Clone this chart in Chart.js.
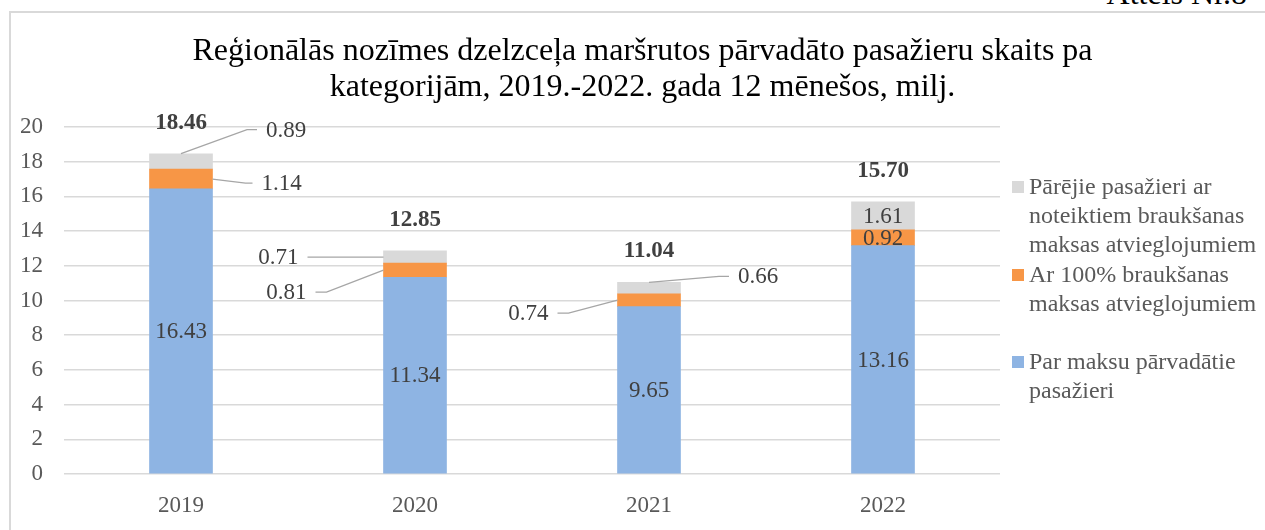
<!DOCTYPE html>
<html>
<head>
<meta charset="utf-8">
<script src="https://cdn.jsdelivr.net/npm/chart.js@4.4.0/dist/chart.umd.min.js"></script>
<style>
  html, body { margin: 0; padding: 0; background: #fff; }
  body { width: 1265px; height: 530px; position: relative; overflow: hidden; font-family: "Liberation Serif", "Times New Roman", serif; }
  #frame { position: absolute; left: 9px; top: 11px; width: 1270px; height: 530px; border-left: 2px solid #d9d9d9; border-top: 2px solid #d9d9d9; box-sizing: border-box; }
  #fig { position: absolute; right: 18px; top: -25px; font-size: 32px; line-height: 37px; color: #000; }
  #title { position: absolute; left: 0; width: 1285px; top: 31px; text-align: center; font-size: 32px; line-height: 36px; color: #000; }
  #chart { position: absolute; left: 0; top: 0; }
  #legend { position: absolute; left: 1012px; top: 0; width: 253px; font-size: 24px; line-height: 29px; color: #595959; }
  #legend .item { position: absolute; left: 0; padding-left: 17px; white-space: nowrap; }
  #legend .sw { position: absolute; left: 0; top: 9px; width: 12px; height: 12px; }
</style>
</head>
<body>
<div id="frame"></div>
<div id="fig">Attēls Nr.8</div>
<canvas id="chart" width="1265" height="530"></canvas>
<div id="title">Reģionālās nozīmes dzelzceļa maršrutos pārvadāto pasažieru skaits pa<br>kategorijām, 2019.-2022. gada 12 mēnešos, milj.</div>
<div id="legend"></div>
<script>
const years = ['2019', '2020', '2021', '2022'];
const paidPassengers = [16.43, 11.34, 9.65, 13.16];
const fullDiscount = [1.14, 0.81, 0.74, 0.92];
const otherDiscount = [0.89, 0.71, 0.66, 1.61];
const totals = [18.46, 12.85, 11.04, 15.70];
const yTicks = [0, 2, 4, 6, 8, 10, 12, 14, 16, 18, 20];

const seriesNames = [
    'Par maksu pārvadātie pasažieri',
    'Ar 100% braukšanas maksas atvieglojumiem',
    'Pārējie pasažieri ar noteiktiem braukšanas maksas atvieglojumiem'
];
const legendLines = [
    ['Par maksu pārvadātie', 'pasažieri'],
    ['Ar 100% braukšanas', 'maksas atvieglojumiem'],
    ['Pārējie pasažieri ar', 'noteiktiem braukšanas', 'maksas atvieglojumiem']
];
const colors = ['#8eb4e3', '#f79646', '#d9d9d9'];
const legendTops = [347, 260, 172];

// how each segment label is placed: 'in' = inside bar, otherwise leader line
// anchor: top / right / left of the segment, elbow & end are pixel offsets from anchor
const labelPlacement = [
    null,
    [
        { anchor: 'right', elbow: [33, 4], end: [40, 4] },
        { anchor: 'left', elbow: [-57, 22], end: [-68, 22] },
        { anchor: 'left', elbow: [-49, 13], end: [-60, 13] },
        'in'
    ],
    [
        { anchor: 'top', elbow: [66, -24], end: [76, -24] },
        { anchor: 'left', elbow: [0, 0], end: [-76, 0] },
        { anchor: 'top', elbow: [70, -6], end: [80, -6] },
        'in'
    ]
];

const FONT = '"Liberation Serif", "Times New Roman", serif';

const labelPlugin = {
    id: 'segLabels',
    afterDatasetsDraw(chart) {
        const ctx = chart.ctx;
        ctx.save();
        ctx.font = '23px ' + FONT;
        ctx.fillStyle = '#404040';
        ctx.textBaseline = 'middle';
        chart.data.datasets.forEach((ds, di) => {
            const meta = chart.getDatasetMeta(di);
            meta.data.forEach((bar, i) => {
                const val = ds.data[i].toFixed(2);
                const left = bar.x - bar.width / 2, right = bar.x + bar.width / 2;
                const midY = (bar.y + bar.base) / 2;
                const place = labelPlacement[di] ? labelPlacement[di][i] : 'in';
                if (place === 'in') {
                    ctx.textAlign = 'center';
                    ctx.fillText(val, bar.x, midY + 1);
                    return;
                }
                let ax = bar.x, ay = bar.y;
                if (place.anchor === 'right') { ax = right; ay = midY; }
                if (place.anchor === 'left') { ax = left; ay = midY; }
                ctx.strokeStyle = '#a6a6a6';
                ctx.lineWidth = 1.3;
                ctx.beginPath();
                ctx.moveTo(ax, ay);
                ctx.lineTo(ax + place.elbow[0], ay + place.elbow[1]);
                ctx.lineTo(ax + place.end[0], ay + place.end[1]);
                ctx.stroke();
                const goesRight = place.end[0] > 0;
                ctx.textAlign = goesRight ? 'left' : 'right';
                ctx.fillText(val, ax + place.end[0] + (goesRight ? 9 : -9), ay + place.end[1] + 1);
            });
        });
        // totals above stacks
        const topMeta = chart.getDatasetMeta(2);
        ctx.font = 'bold 23px ' + FONT;
        ctx.textAlign = 'center';
        topMeta.data.forEach((bar, i) => {
            const y = chart.scales.y.getPixelForValue(totals[i]);
            ctx.fillText(totals[i].toFixed(2), bar.x, y - 31);
        });
        ctx.restore();
    }
};

new Chart(document.getElementById('chart'), {
    type: 'bar',
    data: {
        labels: years,
        datasets: [
            { label: seriesNames[0], data: paidPassengers, backgroundColor: colors[0] },
            { label: seriesNames[1], data: fullDiscount, backgroundColor: colors[1] },
            { label: seriesNames[2], data: otherDiscount, backgroundColor: colors[2] }
        ]
    },
    options: {
        responsive: false,
        animation: false,
        layout: { padding: { left: 4, right: 265, top: 127, bottom: 0 } },
        datasets: { bar: { barThickness: 63, borderWidth: 0 } },
        plugins: {
            legend: { display: false },
            title: { display: false },
            tooltip: { enabled: false }
        },
        scales: {
            x: {
                stacked: true,
                grid: { display: false },
                border: { display: false },
                ticks: { color: '#595959', font: { family: FONT, size: 23 }, padding: 10 },
                afterFit: s => { s.height = 56; }
            },
            y: {
                stacked: true,
                min: 0,
                max: 20,
                afterBuildTicks: s => { s.ticks = yTicks.map(v => ({ value: v })); },
                grid: { color: '#d9d9d9', lineWidth: 1.5, drawTicks: false },
                border: { display: false },
                ticks: { color: '#595959', font: { family: FONT, size: 23 }, padding: 21 },
                afterFit: s => { s.width = 60; }
            }
        }
    },
    plugins: [labelPlugin]
});

// legend, listed top series first like the original
const legendEl = document.getElementById('legend');
[2, 1, 0].forEach(i => {
    const item = document.createElement('div');
    item.className = 'item';
    item.style.top = legendTops[i] + 'px';
    item.innerHTML = '<span class="sw" style="background:' + colors[i] + '"></span>' + legendLines[i].join('<br>');
    legendEl.appendChild(item);
});
</script>
</body>
</html>
